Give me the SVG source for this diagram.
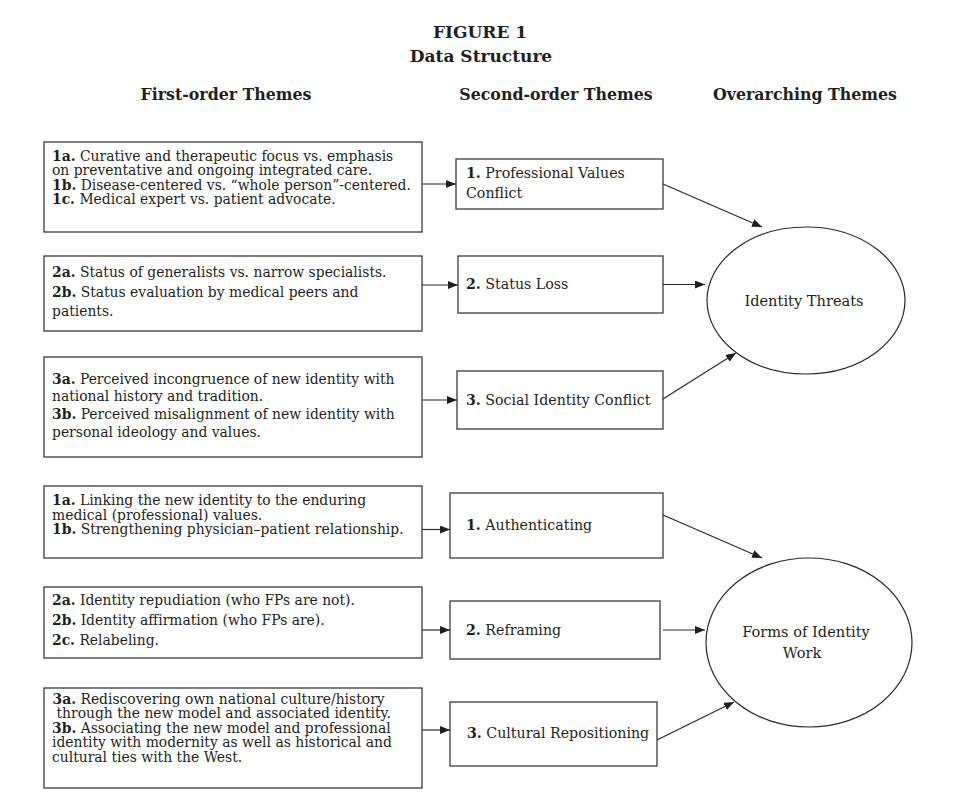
<svg xmlns="http://www.w3.org/2000/svg" width="969" height="811" viewBox="0 0 969 811">
<style>
text{font-family:"DejaVu Serif","Liberation Serif",serif;fill:#231f20}
.h{font-weight:bold;font-size:15.8px;text-anchor:middle}
.t{font-weight:bold;font-size:17px;text-anchor:middle}
.s{font-size:13.9px}
.m{font-size:14.2px}
.e{font-size:14.6px;text-anchor:middle}
.b{font-weight:bold}
.box{fill:#fff;stroke:#4a4a4a;stroke-width:1.4}
.ell{fill:#fff;stroke:#2a2a2a;stroke-width:1.2}
.c line{stroke:#2a2a2a;stroke-width:1.2;fill:none;marker-end:url(#ah)}
</style>
<defs>
<marker id="ah" markerUnits="userSpaceOnUse" markerWidth="11" markerHeight="9" refX="10" refY="4" orient="auto">
<path d="M0,0 L10,4 L0,8 z" fill="#231f20"/>
</marker>
</defs>
<rect width="969" height="811" fill="#fff"/>
<g id="title">
<text class="t" x="480" y="38">FIGURE 1</text>
<text class="t" x="481" y="62">Data Structure</text>
</g>
<g id="headers">
<text class="h" x="226" y="100">First-order Themes</text>
<text class="h" x="556" y="100">Second-order Themes</text>
<text class="h" x="805" y="100">Overarching Themes</text>
</g>
<g id="f1">
<rect class="box" x="44" y="142" width="378" height="90"/>
<text class="s" x="52" y="160.5"><tspan class="b">1a.</tspan> Curative and therapeutic focus vs. emphasis</text>
<text class="s" x="52" y="175">on preventative and ongoing integrated care.</text>
<text class="s" x="52" y="189.5"><tspan class="b">1b.</tspan> Disease-centered vs. “whole person”-centered.</text>
<text class="s" x="52" y="204"><tspan class="b">1c.</tspan> Medical expert vs. patient advocate.</text>
</g>
<g id="f2">
<rect class="box" x="44" y="256" width="378" height="75"/>
<text class="s" x="52" y="277"><tspan class="b">2a.</tspan> Status of generalists vs. narrow specialists.</text>
<text class="s" x="52" y="296.5"><tspan class="b">2b.</tspan> Status evaluation by medical peers and</text>
<text class="s" x="52" y="316">patients.</text>
</g>
<g id="f3">
<rect class="box" x="44" y="357" width="378" height="100"/>
<text class="s" x="52" y="383.5"><tspan class="b">3a.</tspan> Perceived incongruence of new identity with</text>
<text class="s" x="52" y="401">national history and tradition.</text>
<text class="s" x="52" y="418.5"><tspan class="b">3b.</tspan> Perceived misalignment of new identity with</text>
<text class="s" x="52" y="436.5">personal ideology and values.</text>
</g>
<g id="f4">
<rect class="box" x="44" y="486" width="378" height="72"/>
<text class="s" x="52" y="505"><tspan class="b">1a.</tspan> Linking the new identity to the enduring</text>
<text class="s" x="52" y="519.5">medical (professional) values.</text>
<text class="s" x="52" y="534"><tspan class="b">1b.</tspan> Strengthening physician–patient relationship.</text>
</g>
<g id="f5">
<rect class="box" x="44" y="587" width="378" height="71"/>
<text class="s" x="52" y="605"><tspan class="b">2a.</tspan> Identity repudiation (who FPs are not).</text>
<text class="s" x="52" y="625"><tspan class="b">2b.</tspan> Identity affirmation (who FPs are).</text>
<text class="s" x="52" y="645"><tspan class="b">2c.</tspan> Relabeling.</text>
</g>
<g id="f6">
<rect class="box" x="44" y="688" width="378" height="100"/>
<text class="s" x="52.5" y="703.5"><tspan class="b">3a.</tspan> Rediscovering own national culture/history</text>
<text class="s" x="56.5" y="718">through the new model and associated identity.</text>
<text class="s" x="52" y="732.5"><tspan class="b">3b.</tspan> Associating the new model and professional</text>
<text class="s" x="52" y="747">identity with modernity as well as historical and</text>
<text class="s" x="52" y="761.5">cultural ties with the West.</text>
</g>
<g id="s1">
<rect class="box" x="456" y="159" width="207" height="50"/>
<text class="m" x="466" y="178"><tspan class="b">1.</tspan> Professional Values</text>
<text class="m" x="466" y="198">Conflict</text>
</g>
<g id="s2">
<rect class="box" x="458" y="256" width="205" height="57"/>
<text class="m" x="466" y="289"><tspan class="b">2.</tspan> Status Loss</text>
</g>
<g id="s3">
<rect class="box" x="457" y="371" width="206" height="58"/>
<text class="m" x="466" y="405"><tspan class="b">3.</tspan> Social Identity Conflict</text>
</g>
<g id="s4">
<rect class="box" x="450" y="493" width="213" height="65"/>
<text class="m" x="466" y="530"><tspan class="b">1.</tspan> Authenticating</text>
</g>
<g id="s5">
<rect class="box" x="450" y="601" width="210" height="58"/>
<text class="m" x="466" y="635"><tspan class="b">2.</tspan> Reframing</text>
</g>
<g id="s6">
<rect class="box" x="450" y="702" width="207" height="64"/>
<text class="m" x="467" y="738"><tspan class="b">3.</tspan> Cultural Repositioning</text>
</g>
<g id="o1">
<ellipse class="ell" cx="806" cy="300.5" rx="99" ry="73.5"/>
<text class="e" x="804" y="306">Identity Threats</text>
</g>
<g id="o2">
<ellipse class="ell" cx="809" cy="642.5" rx="103" ry="84.5"/>
<text class="e" x="806" y="637">Forms of Identity</text>
<text class="e" x="802" y="658">Work</text>
</g>
<g id="connectors" class="c">
<line x1="422" y1="184" x2="456" y2="184"/>
<line x1="422" y1="285" x2="458" y2="285"/>
<line x1="422" y1="400" x2="457" y2="400"/>
<line x1="422" y1="529.5" x2="450" y2="529.5"/>
<line x1="422" y1="630" x2="450" y2="630"/>
<line x1="422" y1="730" x2="450" y2="730"/>
<line x1="663" y1="184" x2="762" y2="227"/>
<line x1="663" y1="284.5" x2="705" y2="284.5"/>
<line x1="663" y1="399" x2="736" y2="353"/>
<line x1="663" y1="515" x2="762" y2="558"/>
<line x1="663" y1="630" x2="705" y2="630"/>
<line x1="657" y1="740" x2="734" y2="702"/>
</g>
</svg>
